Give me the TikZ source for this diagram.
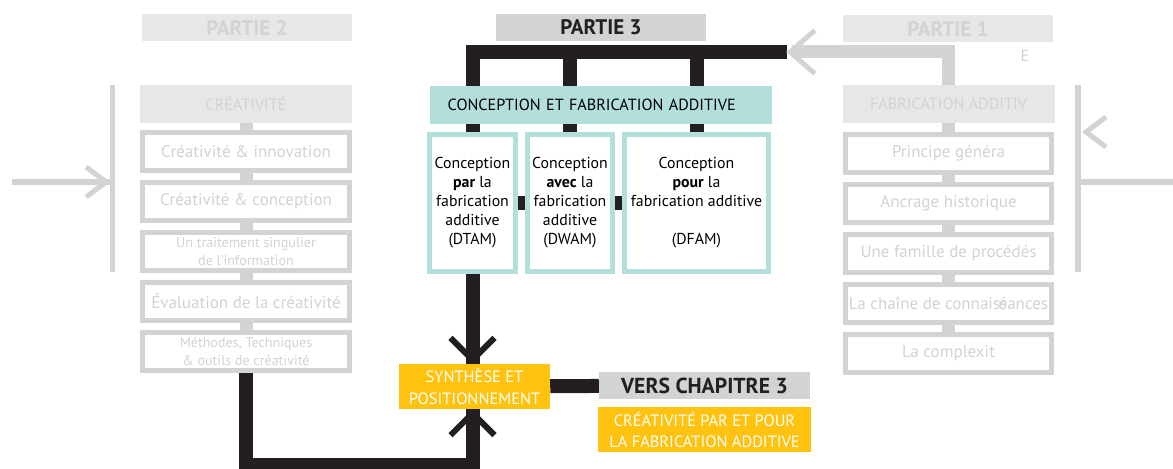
\documentclass[tikz,border=0pt]{standalone}
\usepackage{fontspec}
\setmainfont{PT Sans}
\usepackage{tikz}
\usetikzlibrary{arrows.meta,positioning,calc}
\definecolor{noirC}{HTML}{231F20}
\definecolor{grisF}{HTML}{D1D3D4}
\definecolor{grisL}{HTML}{E6E7E8}
\definecolor{grisT}{HTML}{D1D3D4}
\definecolor{turq}{HTML}{B3DFDB}
\definecolor{jaune}{HTML}{FFC20E}
\tikzset{
  titre/.style={rectangle, fill=#1, minimum width=63mm, minimum height=8.1mm, inner sep=0pt,
                font=\fontsize{18}{20}\selectfont\bfseries},
  entete/.style={rectangle, fill=#1, minimum width=63.6mm, minimum height=11.4mm, inner sep=0pt,
                 font=\fontsize{13.8}{16}\selectfont},
  boite/.style={rectangle, draw=#1, line width=1.5mm, fill=white, minimum width=62mm,
                minimum height=11.4mm, inner sep=0pt, align=center, text=grisT,
                font=\fontsize{14.5}{17}\selectfont},
  sous/.style={rectangle, draw=turq, line width=1.5mm, fill=white, minimum width=#1,
               minimum height=41.1mm, inner sep=0pt, align=center,
               font=\fontsize{13.5}{16.2}\selectfont},
  jaunebox/.style={rectangle, fill=jaune, text=white, minimum width=#1, minimum height=13.5mm,
                   inner sep=0pt, align=center, font=\fontsize{14}{18}\selectfont},
  noir/.style={line width=4.2mm, draw=noirC},
  grisepais/.style={line width=3.9mm, draw=grisF},
  grisfin/.style={line width=1.6mm, draw=grisF},
  pics/chev/.style n args={3}{code={\draw[line join=miter] (#1+#2:#3) -- (0,0) -- (#1-#2:#3);}},
}

\begin{document}
\begin{tikzpicture}[x=0.3mm, y=-0.3mm]
    \useasboundingbox (0,0) rectangle (1173,468);
    % partie 2
    \node[titre=grisL, text=grisF] (p2) at (247,27.5) {PARTIE 2};
    \node[entete=grisL, text=grisT] (h2) at (246,104) {CRÉATIVITÉ};
    \node[boite=grisF] (c1) at (246,151.5) {Créativité \& innovation};
    \node[boite=grisF, below=2.1mm of c1] (c2) {Créativité \& conception};
    \node[boite=grisF, below=2.1mm of c2, font=\fontsize{12}{15.5}\selectfont] (c3)
      {Un traitement singulier\\de l’information};
    \node[boite=grisF, below=2.1mm of c3] (c4) {Évaluation de la créativité};
    \node[boite=grisF, below=2.1mm of c4, font=\fontsize{12}{15.5}\selectfont] (c5)
      {Méthodes, Techniques\\\& outils de créativité};
    \foreach \a/\b in {h2/c1,c1/c2,c2/c3,c3/c4,c4/c5}
      \draw[grisepais] (\a) -- (\b);
    \coordinate (bg1) at (112.5,85);
    \coordinate (bg2) at (112.5,272);
    \coordinate (g0) at (12,182);
    \draw[grisfin] (bg1) -- (bg2);
    \draw[grisfin] (g0) -- (g0 -| bg1);
    \pic[color=grisF, line width=1.5mm] at (106,182) {chev={0}{143}{25}};

    % partie 3
    \node[titre=grisF, text=noirC] (p3) at (601,27.5) {PARTIE 3};
    \node[entete=turq, minimum width=102.6mm, text width=92mm, align=left,
          font=\fontsize{13.8}{16}\selectfont] (cfa) at (601,105)
      {CONCEPTION ET FABRICATION ADDITIVE};
    \node[sous=25.8mm] (n1) at (472.5,203)
      {Conception\\\textbf{par} la\\fabrication\\additive\\(DTAM)};
    \node[sous=25.5mm, right=2.1mm of n1] (n2)
      {Conception\\\textbf{avec} la\\fabrication\\additive\\(DWAM)};
    \node[sous=43.2mm, right=2.1mm of n2] (n3)
      {Conception\\\textbf{pour} la\\fabrication additive\\[16.2pt](DFAM)};
    \coordinate (bus) at (787,52);
    \draw[noir] (cfa.north -| n1) |- (bus);
    \foreach \n in {n2,n3}
      \draw[noir] (cfa.north -| \n) -- (bus -| \n);
    \foreach \n in {n1,n2,n3}
      \draw[noir] (cfa.south -| \n) -- (\n.north);
    \draw[noir] (n1) -- (n2);
    \draw[noir] (n2) -- (n3);

    \node[jaunebox=45.3mm] (syn) at (474.5,386.5) {SYNTHÈSE ET\\POSITIONNEMENT};
    \draw[noir] (n1.south) -- (syn.north -| n1);
    \pic[color=noirC, line width=1.8mm] at ($(syn.north -| n1)+(0,-4)$) {chev={90}{135}{31}};
    \draw[noir] (c5.south) |- (n1 |- 0,465) -- (syn.south -| n1);
    \pic[color=noirC, line width=1.8mm] at ($(syn.south -| n1)+(0,4)$) {chev={270}{135}{31}};
    \node[titre=grisF, text=noirC, minimum width=63.3mm,
          font=\fontsize{18.5}{20}\selectfont\bfseries] (vc) at (704.5,385.5) {VERS CHAPITRE 3};
    \node[jaunebox=63.9mm, below=2.4mm of vc] (cp)
      {CRÉATIVITÉ PAR ET POUR\\LA FABRICATION ADDITIVE};
    \draw[noir] (syn) -- (vc);

    % partie 1
    \node[titre=grisL, text=grisF] (p1) at (948,28.5) {PARTIE 1};
    \node[entete=grisL, text=grisT] (h1) at (948.5,104) {FABRICATION ADDITIV};
    \node[font=\fontsize{13.8}{16}\selectfont, text=grisT] (e1) at (1025,56) {E};
    \node[boite=grisF] (d1) at (948.5,153) {Principe généra};
    \node[boite=grisF, below=2.1mm of d1] (d2) {Ancrage historique};
    \node[boite=grisF, below=2.1mm of d2] (d3) {Une famille de procédés};
    \node[boite=grisF, below=2.1mm of d3] (d4) {La chaîne de connaiss\llap{é}ances};
    \node[boite=grisF, below=2.1mm of d4] (d5) {La complexit};
    \foreach \a/\b in {h1/d1,d1/d2,d2/d3,d3/d4,d4/d5}
      \draw[grisepais] (\a) -- (\b);
    \coordinate (fl) at (792,52);
    \draw[grisepais] (h1.north) |- (fl);
    \pic[color=grisF, line width=1.5mm] at (790,52) {chev={180}{139}{33}};
    \coordinate (bd1) at (1078,85);
    \coordinate (bd2) at (1078,272);
    \coordinate (g1) at (1173,182);
    \draw[grisfin] (bd1) -- (bd2);
    \draw[grisfin] (g1) -- (g1 -| bd1);
    \pic[color=grisF, line width=1.5mm] at (1086,132) {chev={180}{143}{25}};
  \end{tikzpicture}
\end{document}
